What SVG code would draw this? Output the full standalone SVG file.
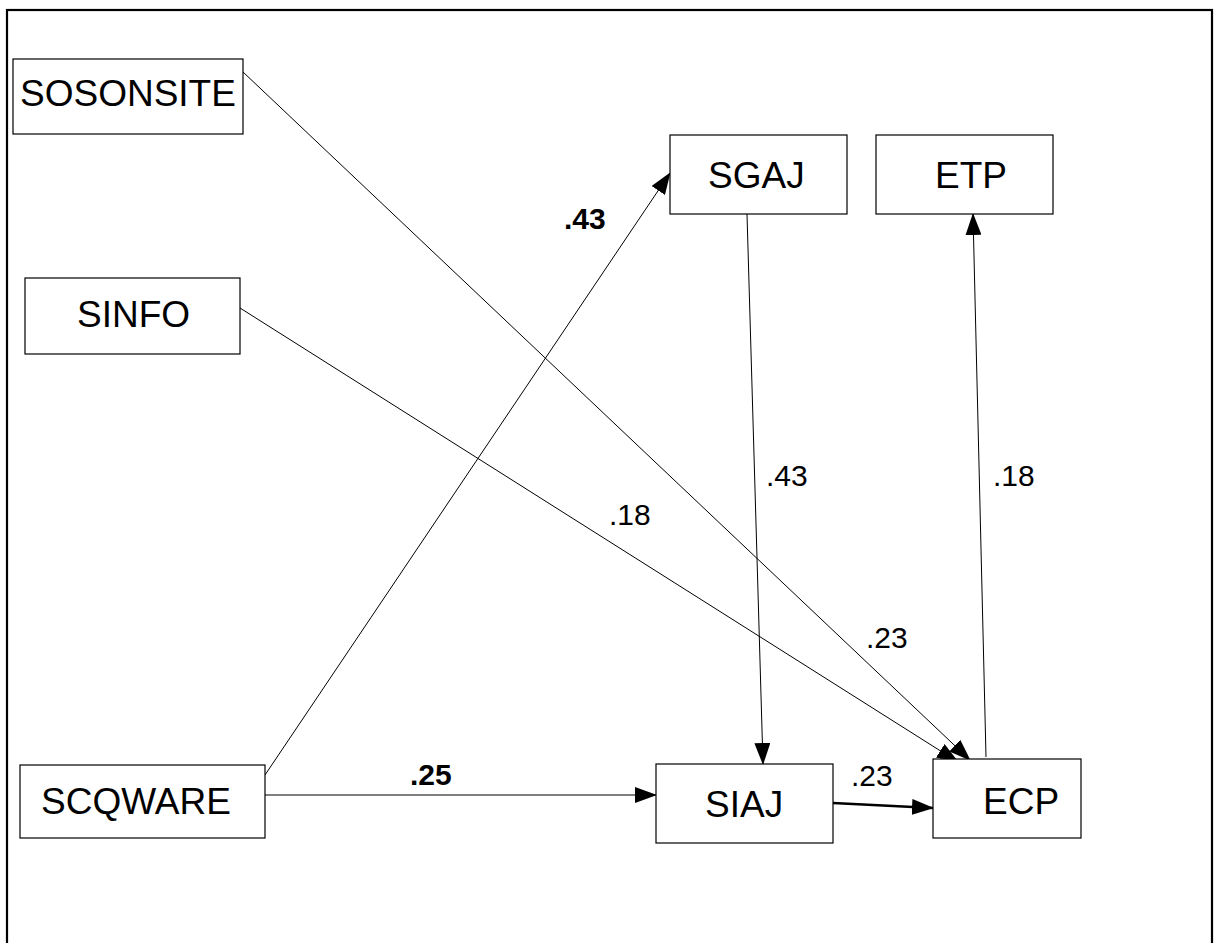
<svg xmlns="http://www.w3.org/2000/svg" width="1216" height="943" viewBox="0 0 1216 943">
<defs>
<marker id="arr" markerUnits="userSpaceOnUse" markerWidth="22" markerHeight="16" viewBox="0 0 22 16" refX="21" refY="8" orient="auto">
<path d="M0,0 L22,8 L0,16 Z" fill="#000"/>
</marker>
<style>
.box{fill:#fff;stroke:#000;stroke-width:1.2}
.nt{font-family:"Liberation Sans",Arial,sans-serif;font-size:37px;fill:#000}
.lb{font-family:"Liberation Sans",Arial,sans-serif;font-size:30px;fill:#000}
.bd{font-weight:bold}
.ln{stroke:#000;stroke-width:1;fill:none;marker-end:url(#arr)}
.thick{stroke-width:2.4}
</style>
</defs>
<rect x="0" y="0" width="1216" height="943" fill="#fff"/>
<rect x="7" y="10" width="1205" height="1000" fill="none" stroke="#000" stroke-width="2.2"/>
<g id="connectors">
<line class="ln" x1="243" y1="72" x2="970" y2="760"/>
<line class="ln" x1="240" y1="308" x2="958" y2="762"/>
<line class="ln" x1="265" y1="775" x2="670" y2="173"/>
<line class="ln" x1="265" y1="795" x2="656" y2="795"/>
<line class="ln" x1="747" y1="214" x2="763" y2="764"/>
<line class="ln" x1="986" y1="757" x2="973" y2="214"/>
<line class="ln thick" x1="833" y1="803" x2="933" y2="808"/>
<text class="lb bd" x="564" y="229">.43</text>
<text class="lb bd" x="410" y="785">.25</text>
<text class="lb" x="766" y="486">.43</text>
<text class="lb" x="993" y="486">.18</text>
<text class="lb" x="609" y="525">.18</text>
<text class="lb" x="866" y="648">.23</text>
<text class="lb" x="851" y="786">.23</text>
</g>
<g id="SOSONSITE"><rect class="box" x="13" y="59" width="230" height="75"/><text class="nt" x="20" y="106">SOSONSITE</text></g>
<g id="SINFO"><rect class="box" x="25" y="278" width="215" height="76"/><text class="nt" x="77" y="327">SINFO</text></g>
<g id="SCQWARE"><rect class="box" x="20" y="765" width="245" height="73"/><text class="nt" x="41" y="814">SCQWARE</text></g>
<g id="SGAJ"><rect class="box" x="670" y="135" width="177" height="79"/><text class="nt" x="708" y="188">SGAJ</text></g>
<g id="ETP"><rect class="box" x="876" y="135" width="177" height="79"/><text class="nt" x="935" y="188">ETP</text></g>
<g id="SIAJ"><rect class="box" x="656" y="764" width="177" height="79"/><text class="nt" x="705" y="817">SIAJ</text></g>
<g id="ECP"><rect class="box" x="933" y="759" width="148" height="79"/><text class="nt" x="983" y="814">ECP</text></g>
</svg>
